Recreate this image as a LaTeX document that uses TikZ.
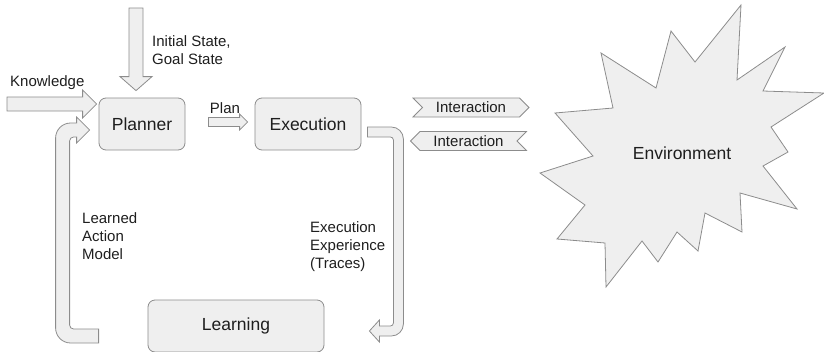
\documentclass[tikz,border=0pt]{standalone}
\usepackage{fontspec}
\setmainfont{Liberation Sans}
\usetikzlibrary{calc,positioning,shapes.symbols}
\definecolor{boxfill}{RGB}{239,239,239}
\definecolor{boxline}{RGB}{140,140,140}
\definecolor{inktext}{RGB}{30,30,30}
% straight block arrow: tail, tip, half shaft, half head, head length
\newcommand{\fatarrow}[5]{%
  \coordinate (fa-base) at ($(#2)!#5!(#1)$);
  \draw[fatline] ($(#1)!#3!90:(#2)$) -- ($(fa-base)!#3!90:(#2)$)
    -- ($(fa-base)!#4!90:(#2)$) -- (#2) -- ($(fa-base)!#4!-90:(#2)$)
    -- ($(fa-base)!#3!-90:(#2)$) -- ($(#1)!#3!-90:(#2)$) -- cycle;}

\begin{document}
\begin{tikzpicture}[x=1pt,y=-1pt,on grid,text=inktext,
    font=\fontsize{15}{18}\selectfont,
    block/.style={rectangle,rounded corners=7pt,draw=boxline,fill=boxfill,line width=0.8pt,
      minimum height=52pt,font=\fontsize{17.5}{21}\selectfont},
    fatline/.style={draw=boxline,fill=boxfill,line width=0.8pt,line join=miter},
    tag/.style={signal,draw=boxline,fill=boxfill,line width=0.8pt,minimum height=19pt,
      minimum width=116pt,inner sep=0pt},
    note/.style={align=left,inner sep=0pt}]
\useasboundingbox (0,0) rectangle (824,351);

\node[block,minimum width=86pt]  (planner)  at (142,124) {Planner};
\node[block,minimum width=106pt] (exec)     [right=166pt of planner] {Execution};
\node[block,minimum width=176pt] (learning) [below right=202pt and 94pt of planner] {Learning};

% inputs of the planner
\coordinate (know-tail) at (7,104);
\coordinate (know-tip)  at ($(planner.west)+(-2,-20)$);
\fatarrow{know-tail}{know-tip}{7pt}{14pt}{14pt}
\node[note,anchor=west] (know-text) at (10,83) {Knowledge};

\coordinate (init-tail) at (136,8);
\coordinate (init-tip)  at ($(planner.north)+(-6,-7)$);
\fatarrow{init-tail}{init-tip}{7pt}{16pt}{14pt}
\node[note,anchor=north west] (init-text) at (152,35) {Initial State,\\Goal State};

\coordinate (plan-tail) at ($(planner.east)+(23,-2)$);
\coordinate (plan-tip)  at ($(exec.west)+(-7,-2)$);
\fatarrow{plan-tail}{plan-tip}{4.5pt}{8pt}{8pt}
\node (plan-text) at (225,108) {Plan};

% loop back through learning
\coordinate (exp-tail) at ($(exec.east)+(6,3)$);
\draw[fatline] (exp-tail) [rounded corners=12pt] -- ++(36,0) -- ++(0,209)
  [sharp corners] -- ++(-24,0) -- ++(0,6) -- ++(-10,-11) -- ++(10,-11) -- ++(0,6)
  [rounded corners=3pt] -- ++(14,0) -- ++(0,-189) [sharp corners] -- ++(-26,0) -- cycle;
\node[note,anchor=north west] (exp-text) at (310,221) {Execution\\Experience\\(Traces)};

\coordinate (model-tip) at ($(planner.west)+(-9,6)$);
\draw[fatline] (model-tip) -- ++(-13,13) -- ++(0,-6)
  [rounded corners=4pt] -- ++(-7,0) -- ++(0,192) [sharp corners] -- ++(29,0) -- ++(0,14)
  [rounded corners=15pt] -- ++(-43,0) -- ++(0,-220) [sharp corners] -- ++(21,0) -- ++(0,-6) -- cycle;
\node[note,anchor=north west] (model-text) at (82,212) {Learned\\Action\\Model};

% environment
\draw[fatline] (741,5) -- (737,80) -- (785,47) -- (763,91) -- (824,93) -- (771,127)
  -- (788,152) -- (763,166) -- (797,209) -- (740,193) -- (742,232) -- (705,213)
  -- (698,251) -- (677,232) -- (658,262) -- (642,241) -- (606,287) -- (605,243)
  -- (557,239) -- (585,205) -- (540,173) -- (593,156) -- (555,113) -- (613,108)
  -- (601,53) -- (656,88) -- (671,31) -- (695,62) -- cycle;
\node[font=\fontsize{17.5}{21}\selectfont] (environment) at (682,153) {Environment};

\node[tag,signal from=west,signal to=east] (int-out) at (471,107.5) {Interaction};
\node[tag,signal from=east,signal to=west] (int-in)  at (468.5,141) {Interaction};
\end{tikzpicture}
\end{document}
